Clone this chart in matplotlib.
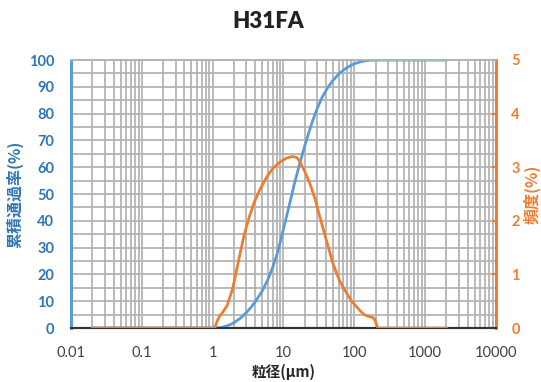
import matplotlib
matplotlib.use("Agg")
import matplotlib.pyplot as plt
from matplotlib.ticker import FixedLocator, NullFormatter, LogLocator

plt.rcParams['font.family'] = ['Lato', 'DejaVu Sans']

# cumulative passing (%)
cum_x = [0.02, 1.0, 1.15, 1.3, 1.5, 1.75, 2.0, 2.5, 3.0, 3.5, 4.0, 5.0, 6.0, 7.0, 8.0, 9.0, 10, 12, 14, 17, 20, 23, 26, 30, 35, 42, 50, 60, 70, 85, 100, 125, 150, 200, 2000]
cum_y = [0, 0, 0, 0.2, 0.6, 1.2, 2.0, 3.8, 5.8, 7.8, 9.8, 13.8, 18.0, 22.5, 27.0, 32.0, 37.0, 45.5, 53.0, 61.5, 68.0, 73.3, 77.6, 82.0, 86.0, 89.7, 92.4, 94.7, 96.2, 97.7, 98.6, 99.4, 99.8, 100, 100]

# frequency (%)
freq_x = [0.02, 1.07, 1.15, 1.25, 1.4, 1.6, 1.9, 2.1, 2.4, 2.8, 3.3, 3.9, 4.6, 5.8, 7.1, 9, 11, 13.5, 15.5, 17, 20, 23.5, 28, 32.5, 40, 50, 62, 77, 92, 107, 125, 138, 155, 170, 185, 195, 215, 2000]
freq_y = [0, 0, 0.12, 0.22, 0.30, 0.42, 0.72, 0.98, 1.35, 1.75, 2.08, 2.36, 2.57, 2.82, 2.98, 3.10, 3.17, 3.20, 3.18, 3.10, 2.92, 2.70, 2.40, 2.08, 1.65, 1.20, 0.88, 0.66, 0.50, 0.40, 0.30, 0.25, 0.22, 0.21, 0.19, 0.15, 0, 0]

xticks = [0.01, 0.1, 1, 10, 100, 1000, 10000]
xticklabels = ["0.01", "0.1", "1", "10", "100", "1000", "10000"]

blue = '#5B9BD5'
orange = '#ED7D31'
blue_txt = '#2E75B6'
grid_c = '#B4B4B4'

fig = plt.figure(figsize=(5.41, 3.82), dpi=100)
ax = fig.add_axes([71/541, (382-328)/382, (496-71)/541, (328-60)/382])
ax2 = ax.twinx()

ax.set_xscale('log')
ax.set_xlim(0.01, 10000)
ax.set_ylim(0, 100)
ax2.set_ylim(0, 5)

ax.xaxis.set_major_locator(FixedLocator(xticks))
ax.set_xticklabels(xticklabels)
ax.xaxis.set_minor_locator(LogLocator(base=10, subs=range(2, 10), numticks=20))
ax.xaxis.set_minor_formatter(NullFormatter())
ax.set_yticks(range(0, 101, 10))
ax.set_yticks(range(5, 100, 10), minor=True)
ax2.set_yticks(range(0, 6))

ax.grid(True, which='both', axis='both', color=grid_c, linewidth=1.3, zorder=0)
ax.set_axisbelow(True)

ax.plot(cum_x, cum_y, color=blue, linewidth=2, zorder=3, solid_capstyle='round', solid_joinstyle='round')
ax2.plot(freq_x, freq_y, color=orange, linewidth=2, zorder=3, solid_capstyle='round', solid_joinstyle='round')

for a in (ax, ax2):
    a.spines['top'].set_color(grid_c)
    a.spines['top'].set_linewidth(1.3)
    a.spines['bottom'].set_color('#333333')
    a.spines['bottom'].set_linewidth(1.5)
    a.spines['left'].set_color(blue)
    a.spines['left'].set_linewidth(2)
    a.spines['right'].set_color(orange)
    a.spines['right'].set_linewidth(2)

ax.tick_params(axis='x', which='both', length=0, pad=13, labelsize=10.5, labelcolor='#404040')
ax.tick_params(axis='y', which='both', length=0, pad=12, labelsize=10.5, labelcolor=blue_txt)
ax2.tick_params(axis='y', which='major', direction='in', length=3, width=1.5, color=orange,
                pad=11, labelsize=10.5, labelcolor=orange)
for t in ax.get_yticklabels():
    t.set_fontweight('bold')
for t in ax2.get_yticklabels():
    t.set_fontweight('bold')

cjk = ['Noto Sans CJK JP', 'DejaVu Sans']
ax.set_ylabel('累積通過率(%)', color=blue_txt, fontsize=11.5, fontweight='bold', family=cjk, labelpad=4)
ax2.set_ylabel('頻度(%)', color=orange, fontsize=11.5, fontweight='bold', family=cjk, labelpad=3)
ax.set_xlabel('粒径(μm)', color='#262626', fontsize=10.5, fontweight='bold', family=cjk, labelpad=3)
fig.text(268/541, 1 - 22/382, 'H31FA', ha='center', va='center', fontsize=16, fontweight='heavy', color='#222222')

fig.savefig('out.png', dpi=100)
